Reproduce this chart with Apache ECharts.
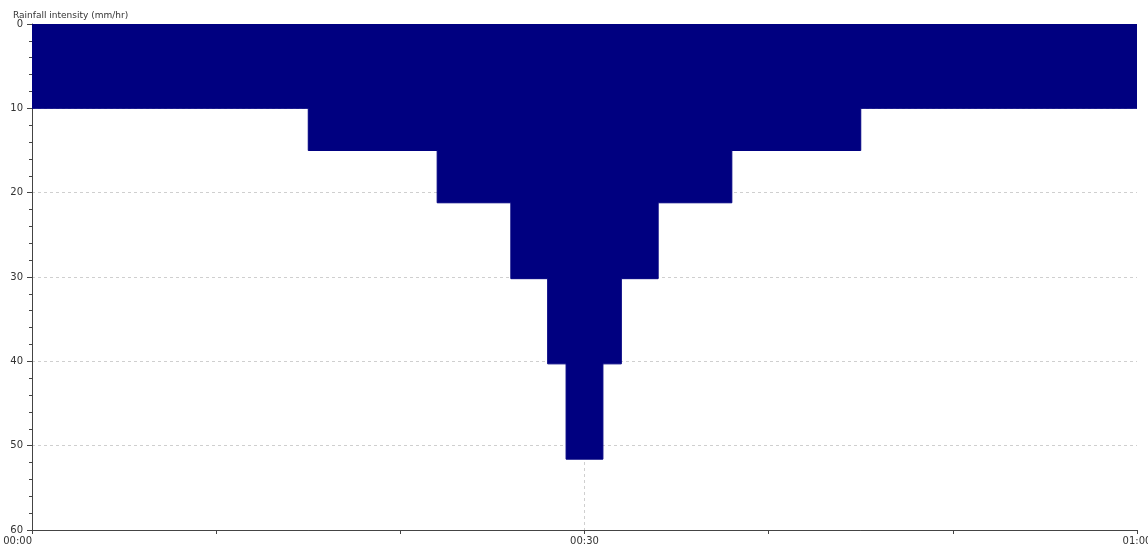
<!DOCTYPE html>
<html>
<head>
<meta charset="utf-8">
<script src="https://cdn.jsdelivr.net/npm/echarts@6/dist/echarts.min.js"></script>
<style>
  html, body { margin: 0; padding: 0; background: #fff; }
  #chart { width: 1148px; height: 546px; }
</style>
</head>
<body>
<div id="chart"></div>
<script>
// Block hyetograph: each block starts at a minute and holds its intensity until the next one
const blockStartMinutes = [0, 15, 22, 26, 28, 29, 31, 32, 34, 38, 45, 60];
const blockIntensity    = [10, 15, 21.2, 30.2, 40.3, 51.6, 40.3, 30.2, 21.2, 15, 10, 10];

// Time axis labels (minutes -> hh:mm)
const timeLabelMinutes = [0, 30, 60];
const timeLabelTexts   = ['00:00', '00:30', '01:00'];

const yAxisTitle = 'Rainfall intensity (mm/hr)';

const seriesData = blockStartMinutes.map((m, i) => [m, blockIntensity[i]]);

const chart = echarts.init(document.getElementById('chart'), null, { renderer: 'canvas' });

const fontFamily = 'DejaVu Sans, Verdana, sans-serif';
const axisColor = '#444';
const gridColor = '#cfcfcf';

chart.setOption({
  animation: false,
  backgroundColor: '#ffffff',
  title: {
    text: yAxisTitle,
    left: 8,
    top: 6,
    textStyle: { fontFamily, fontSize: 9, fontWeight: 'normal', color: '#333' }
  },
  grid: {
    left: 32, right: 11, top: 24, bottom: 16,
    containLabel: false,
    outerBoundsMode: 'none'
  },
  xAxis: [
    {
      type: 'value',
      min: 0,
      max: 60,
      interval: 10,
      position: 'bottom',
      axisLine: { show: true, onZero: false, lineStyle: { color: axisColor, width: 1 } },
      axisTick: { show: true, length: 4, lineStyle: { color: axisColor } },
      axisLabel: {
        fontFamily,
        fontSize: 10,
        color: '#333',
        margin: 6,
        hideOverlap: false,
        alignMinLabel: 'right',
        formatter: (v) => {
          const idx = timeLabelMinutes.indexOf(v);
          return idx >= 0 ? timeLabelTexts[idx] : '';
        }
      },
      splitLine: { show: false }
    },
    {
      // carries only the dashed gridline at the half-hour
      type: 'value',
      min: 0,
      max: 60,
      interval: 30,
      position: 'bottom',
      axisLine: { show: false },
      axisTick: { show: false },
      axisLabel: { show: false },
      splitLine: {
        show: true,
        showMinLine: false,
        showMaxLine: false,
        lineStyle: { color: gridColor, type: [3, 3], width: 1 }
      }
    }
  ],
  yAxis: {
    type: 'value',
    inverse: true,
    min: 0,
    max: 60,
    interval: 10,
    axisLine: { show: true, lineStyle: { color: axisColor, width: 1 } },
    axisTick: { show: true, length: 5, lineStyle: { color: axisColor } },
    minorTick: { show: true, splitNumber: 5, length: 3, lineStyle: { color: axisColor } },
    axisLabel: { fontFamily, fontSize: 10, color: '#333', margin: 9 },
    splitLine: { show: true, lineStyle: { color: gridColor, type: [3, 3], width: 1 } }
  },
  series: [
    {
      type: 'line',
      xAxisIndex: 0,
      step: 'end',
      data: seriesData,
      showSymbol: false,
      symbol: 'none',
      lineStyle: { color: '#000080', width: 1 },
      areaStyle: { color: '#000080', opacity: 1 },
      z: 3
    }
  ]
});
</script>
</body>
</html>
